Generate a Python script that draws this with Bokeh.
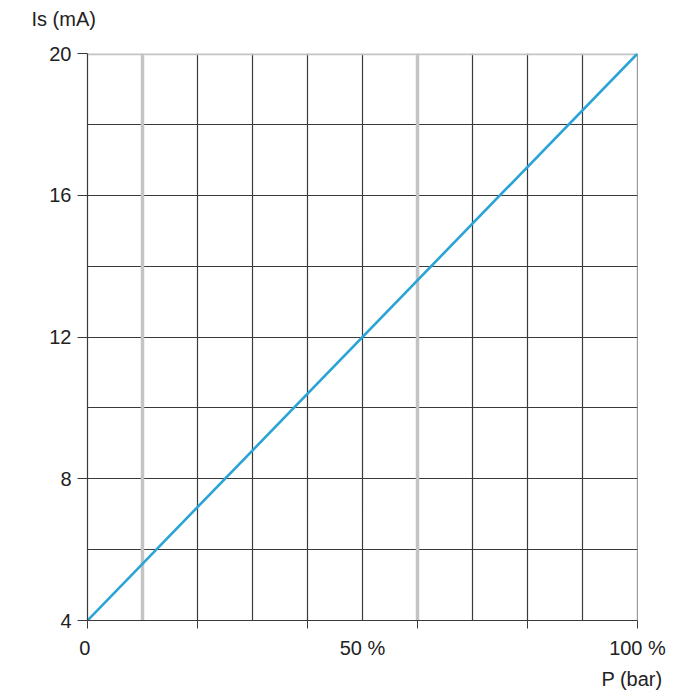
from bokeh.plotting import figure
from bokeh.models import Range1d, FixedTicker, Grid, Title
from bokeh.embed import file_html
from bokeh.resources import INLINE

# signal current vs pressure (percent of span)
pressure_pct = [0, 100]
current_ma = [4, 20]

x_label_ticks = [0, 50, 100]
x_label_text = {0: "0 ", 50: "50 %", 100: "100 %"}
x_tick_marks = [0, 20, 40, 60, 80, 100]
y_label_ticks = [4, 8, 12, 16, 20]

dark_x = [20, 30, 40, 50, 70, 80, 90, 100]
gray_x = [10, 60]
dark_y = [6, 8, 10, 12, 14, 16, 18]
gray_y = [20]

FONT = "Liberation Sans"
DARK = "#3a3a3a"
GRAY = "#c4c4c4"
TEXT = "#222222"

# ranges a hair past the last grid value so the border grid lines are kept
p = figure(width=690, height=696, output_backend="svg", toolbar_location=None,
           x_range=Range1d(0, 100.001), y_range=Range1d(4, 20.001),
           min_border_left=87, min_border_right=53,
           min_border_top=53, min_border_bottom=76)
p.outline_line_color = None
p.xgrid.visible = False
p.ygrid.visible = False
p.title.text = ""

for ticks, dim, color, w in [(dark_x, 0, DARK, 1.2), (dark_y, 1, DARK, 1.2),
                             (gray_x, 0, GRAY, 3.5), (gray_y, 1, GRAY, 3.5)]:
    p.add_layout(Grid(dimension=dim, ticker=FixedTicker(ticks=ticks),
                      grid_line_color=color, grid_line_width=w))

xa = p.xaxis[0]
xa.ticker = FixedTicker(ticks=x_label_ticks, minor_ticks=x_tick_marks)
xa.major_label_overrides = x_label_text
xa.major_tick_out = 0
xa.major_tick_in = 0
xa.minor_tick_out = 8
xa.minor_tick_in = 0
xa.minor_tick_line_color = DARK
xa.major_label_standoff = 8

ya = p.yaxis[0]
ya.ticker = FixedTicker(ticks=y_label_ticks, minor_ticks=[])
ya.major_tick_out = 10
ya.major_tick_in = 0
ya.major_label_standoff = 6

for ax in (xa, ya):
    ax.axis_line_color = DARK
    ax.axis_line_width = 1.2
    ax.major_tick_line_color = DARK
    ax.major_label_text_font = FONT
    ax.major_label_text_font_size = "20px"
    ax.major_label_text_color = TEXT

p.line(pressure_pct, current_ma, line_color="#2aa3d6", line_width=2.6)


def side_text(text, align, offset, standoff):
    return Title(text=text, align=align, offset=offset, standoff=standoff,
                 text_font=FONT, text_font_size="20px",
                 text_font_style="normal", text_color=TEXT)


# blank spacer lifts the y unit label away from the frame
p.add_layout(side_text(" ", "left", 0, 0), "above")
p.add_layout(side_text("Is (mA)", "left", -56, 0), "above")
p.add_layout(side_text("P (bar)", "right", -25, 8), "below")

open("out.html", "w").write(file_html(p, INLINE))
